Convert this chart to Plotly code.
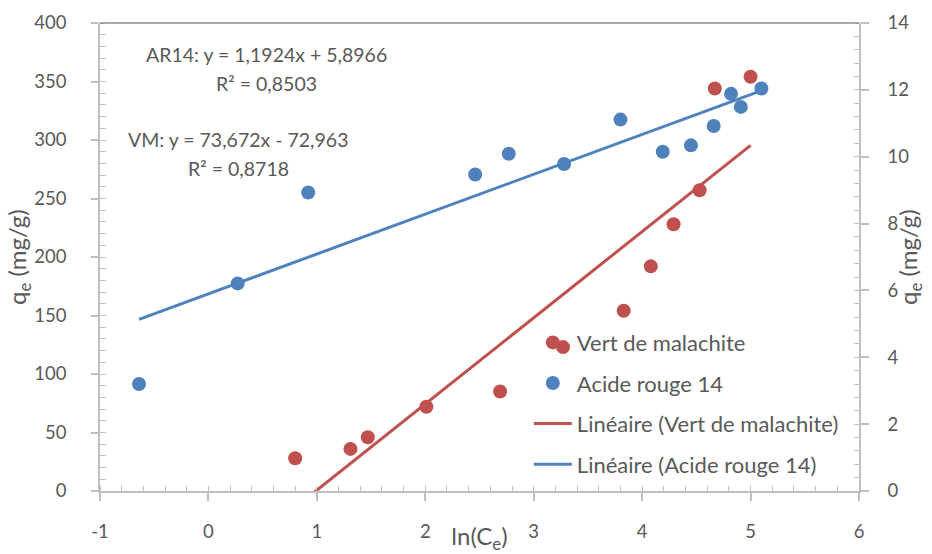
import plotly.graph_objects as go

# Vert de malachite (left axis, mg/g)
vm_lnce = [0.80, 1.31, 1.47, 2.01, 2.69, 3.27, 3.83, 4.08, 4.29, 4.53, 4.67, 5.00]
vm_qe = [28, 36, 46, 72, 85, 123, 154, 192, 228, 257, 344, 354]

# Acide rouge 14 (right axis, mg/g)
ar_lnce = [-0.64, 0.27, 0.92, 2.46, 2.77, 3.28, 3.80, 4.19, 4.45, 4.66, 4.82, 4.91, 5.10]
ar_qe = [3.20, 6.21, 8.93, 9.47, 10.09, 9.78, 11.11, 10.15, 10.34, 10.92, 11.88, 11.49, 12.04]

# Linear fit coefficients (slope, intercept)
vm_fit = (73.672, -72.963)
ar_fit = (1.1924, 5.8966)

vm_eq = "VM: y = 73,672x - 72,963"
vm_r2 = "R² = 0,8718"
ar_eq = "AR14: y = 1,1924x + 5,8966"
ar_r2 = "R² = 0,8503"
qe_title = "q<sub>e</sub> (mg/g)"

# x tick positions and labels (plain hyphen for the negative value)
x_ticks = [-1, 0, 1, 2, 3, 4, 5, 6]
x_ticklabels = ["-1", "0", "1", "2", "3", "4", "5", "6"]

RED = "#C0504D"
BLUE = "#4F81BD"
TXT = "#595959"
AXC = "#BFBFBF"
FONT = "Lato, 'Open Sans', sans-serif"

vm_line_x = [min(vm_lnce), max(vm_lnce)]
vm_line_y = [vm_fit[0] * x + vm_fit[1] for x in vm_line_x]
ar_line_x = [min(ar_lnce), max(ar_lnce)]
ar_line_y = [ar_fit[0] * x + ar_fit[1] for x in ar_line_x]

fig = go.Figure()
fig.add_trace(go.Scatter(x=vm_lnce, y=vm_qe, mode="markers", name="Vert de malachite",
                         marker=dict(color=RED, size=14), yaxis="y", legendgroup="a"))
fig.add_trace(go.Scatter(x=ar_lnce, y=ar_qe, mode="markers", name="Acide rouge 14",
                         marker=dict(color=BLUE, size=14), yaxis="y2", legendgroup="b"))
fig.add_trace(go.Scatter(x=vm_line_x, y=vm_line_y, mode="lines", name="Linéaire (Vert de malachite)",
                         line=dict(color=RED, width=3), yaxis="y", legendgroup="c"))
fig.add_trace(go.Scatter(x=ar_line_x, y=ar_line_y, mode="lines", name="Linéaire (Acide rouge 14)",
                         line=dict(color=BLUE, width=3), yaxis="y2", legendgroup="d"))

tickfont = dict(family=FONT, size=18.5, color=TXT)
titlefont = dict(family=FONT, size=24, color=TXT)
notefont = dict(family=FONT, size=19.5, color=TXT)


def note(text, cx, cy, font=notefont, angle=0):
    # centre of a text block, given in pixels of the 932x554 page
    return dict(text=text, xref="paper", yref="paper",
                x=(cx - 100) / 759, y=(491 - cy) / 468, textangle=angle,
                xanchor="center", yanchor="middle", showarrow=False, font=font)


fig.update_layout(
    width=932, height=554,
    margin=dict(l=100, r=73, t=23, b=63),
    paper_bgcolor="white", plot_bgcolor="white",
    font=dict(family=FONT, size=18, color=TXT),
    showlegend=True,
    legend=dict(x=0.565, y=0.362, xanchor="left", yanchor="top",
                bgcolor="rgba(0,0,0,0)", font=dict(family=FONT, size=22, color=TXT),
                tracegroupgap=9, itemwidth=38),
    xaxis=dict(range=[-1, 6], tickvals=x_ticks, ticktext=x_ticklabels, automargin=False,
               showgrid=False, zeroline=False,
               showline=True, linecolor=AXC, linewidth=1.5,
               ticks="outside", ticklen=8, tickwidth=1.5, tickcolor=AXC,
               minor=dict(dtick=0.2, ticks="inside", ticklen=5, tickcolor=AXC, tickwidth=1.2, showgrid=False),
               tickfont=tickfont, ticklabelstandoff=15,
               title=dict(text="ln(C<sub>e</sub>)", font=titlefont, standoff=14)),
    yaxis=dict(range=[0, 400], dtick=50, automargin=False, showgrid=False, zeroline=False,
               showline=True, linecolor=AXC, linewidth=1.5,
               ticks="outside", ticklen=7, tickwidth=1.5, tickcolor=AXC,
               minor=dict(dtick=10, ticks="inside", ticklen=6, tickcolor=AXC, tickwidth=1.2, showgrid=False),
               tickfont=tickfont, ticklabelstandoff=21),
    yaxis2=dict(range=[0, 14], dtick=2, overlaying="y", side="right", automargin=False,
                showgrid=False, zeroline=False,
                showline=True, linecolor=AXC, linewidth=1.5,
                ticks="outside", ticklen=8, tickwidth=1.5, tickcolor=AXC,
                minor=dict(dtick=0.4, ticks="inside", ticklen=5, tickcolor=AXC, tickwidth=1.2, showgrid=False),
                tickfont=tickfont, ticklabelstandoff=15),
    shapes=[dict(type="line", xref="paper", yref="paper", x0=0, x1=1, y0=1, y1=1,
                 line=dict(color="#8C8C8C", width=1.5))],
    annotations=[
        note(ar_eq, 266, 55),
        note(ar_r2, 266, 83),
        note(vm_eq, 238, 139),
        note(vm_r2, 238, 168),
        note(qe_title, 18, 257, font=titlefont, angle=-90),
        note(qe_title, 909, 257, font=titlefont, angle=-90),
    ],
)

fig.write_html("out.html")
